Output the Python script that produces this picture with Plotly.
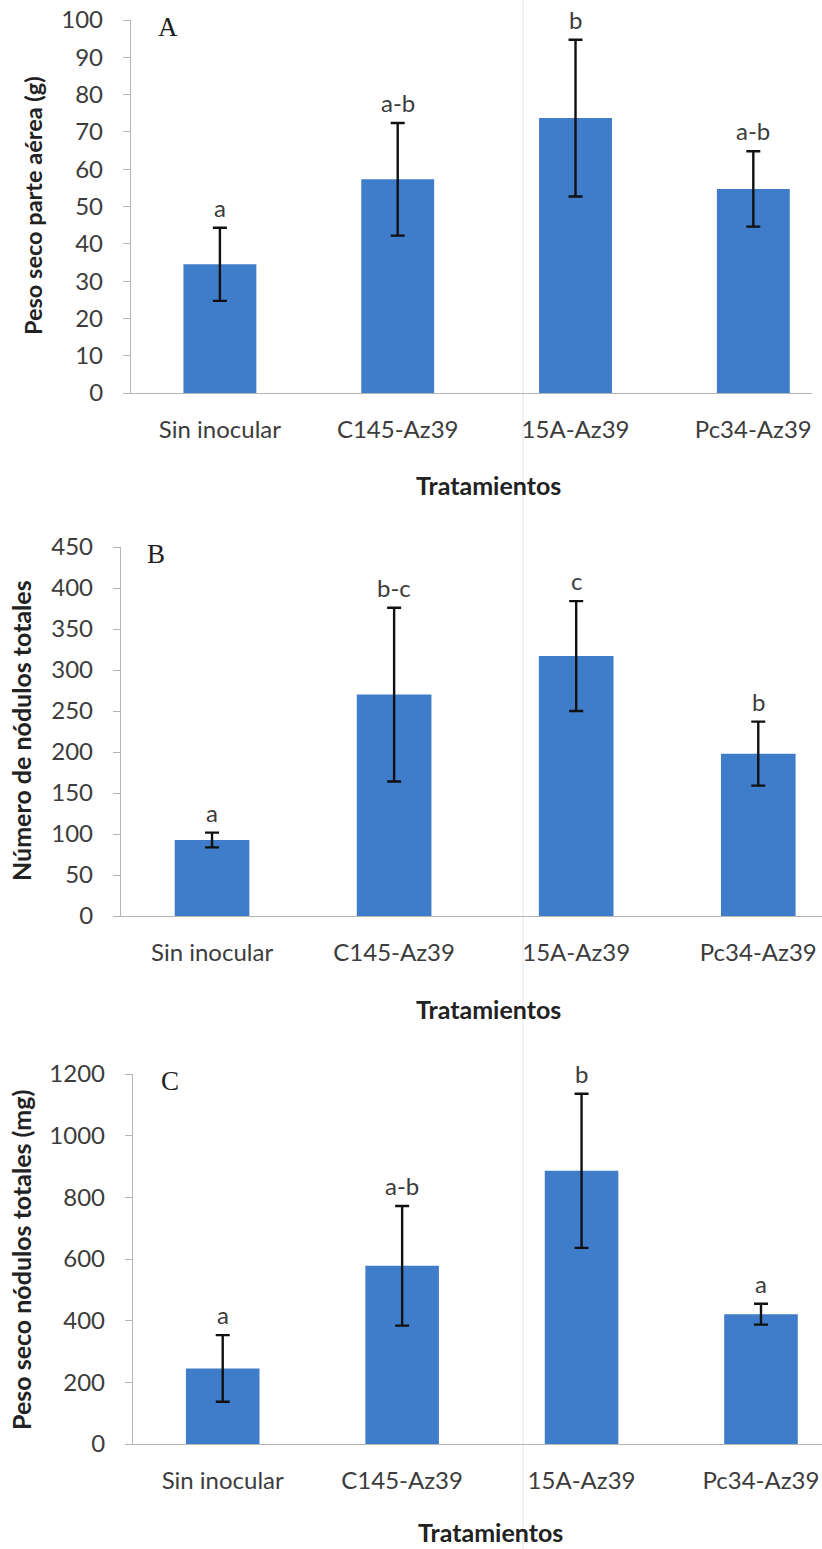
import plotly.graph_objects as go

# Tratamientos y resultados (media ± desvío)
tratamientos = ["Sin inocular", "C145-Az39", "15A-Az39", "Pc34-Az39"]

peso_aereo = [34.5, 57.3, 73.7, 54.7]
err_peso_aereo = [9.8, 15.1, 21.0, 10.1]
letras_aereo = ["a", "a-b", "b", "a-b"]

num_nodulos = [92.7, 270, 317, 198]
err_num_nodulos = [9, 106, 67, 39]
letras_nodulos = ["a", "b-c", "c", "b"]

peso_nodulos = [245, 578, 886, 421]
err_peso_nodulos = [108, 194, 250, 34]
letras_peso_nod = ["a", "a-b", "b", "a"]

W, H = 822, 1549
BAR = "#3f7dca"
TXT = "#3c3c3c"
TIT = "#222222"
FONT = "Lato"


def px(x):
    return x / W


def py(y):
    return 1 - y / H


panels = [
    dict(v=peso_aereo, e=err_peso_aereo, l=letras_aereo, t="Peso seco parte aérea (g)",
         r=[0, 100], d=10, x0=131, x1=812, yt=20, yb=393, letter="A", lxy=(156, 10),
         txy=(33, 206), tsize=23.5, tr=(488, 485), xr=3.33),
    dict(v=num_nodulos, e=err_num_nodulos, l=letras_nodulos, t="Número de nódulos totales",
         r=[0, 450], d=50, x0=121, x1=822, yt=547, yb=916, letter="B", lxy=(145, 537),
         txy=(21, 731), tsize=25, tr=(488, 1009), xr=3.35),
    dict(v=peso_nodulos, e=err_peso_nodulos, l=letras_peso_nod, t="Peso seco nódulos totales (mg)",
         r=[0, 1200], d=200, x0=133, x1=822, yt=1074, yb=1444, letter="C", lxy=(159, 1064),
         txy=(21, 1260), tsize=25, tr=(490, 1532), xr=3.34),
]

fig = go.Figure()
annotations = []

for i, p in enumerate(panels, start=1):
    xa = "x" if i == 1 else f"x{i}"
    ya = "y" if i == 1 else f"y{i}"
    xk = "xaxis" if i == 1 else f"xaxis{i}"
    yk = "yaxis" if i == 1 else f"yaxis{i}"
    fig.add_trace(go.Bar(
        x=list(range(len(tratamientos))), y=p["v"], xaxis=xa, yaxis=ya,
        width=0.41, marker=dict(color=BAR, line=dict(width=0)),
        error_y=dict(type="data", array=p["e"], visible=True, color="#111111",
                     thickness=2.4, width=7),
        showlegend=False,
    ))
    fig.update_layout({
        xk: dict(domain=[px(p["x0"]), px(p["x1"])], anchor=ya, range=[-0.5, p["xr"]],
                 tickmode="array", tickvals=list(range(len(tratamientos))),
                 ticktext=tratamientos, showline=True, linecolor="#b5b5b5", linewidth=1.3,
                 ticks="", showgrid=False, zeroline=False, ticklabelstandoff=15,
                 automargin=False,
                 tickfont=dict(family=FONT, size=24, color=TXT), fixedrange=True),
        yk: dict(domain=[py(p["yb"]), py(p["yt"])], anchor=xa, range=p["r"], dtick=p["d"],
                 showline=True, linecolor="#b5b5b5", linewidth=1.3, ticks="outside",
                 ticklen=7, tickcolor="#b5b5b5", showgrid=False, zeroline=False,
                 ticklabelstandoff=15, automargin=False,
                 tickfont=dict(family=FONT, size=24, color=TXT), fixedrange=True),
    })
    # letras de significancia sobre las barras de error
    for k, (v, e, lt) in enumerate(zip(p["v"], p["e"], p["l"])):
        annotations.append(dict(x=k, y=v + e, xref=xa, yref=ya, text=lt, showarrow=False,
                                yanchor="bottom", yshift=4,
                                font=dict(family=FONT, size=24, color=TXT)))
    # letra del panel
    annotations.append(dict(x=px(p["lxy"][0]), y=py(p["lxy"][1]), xref="paper", yref="paper",
                            text=p["letter"], showarrow=False, xanchor="left", yanchor="top",
                            font=dict(family="Liberation Serif", size=27, color="#1e1e1e")))
    # título del eje y
    annotations.append(dict(x=px(p["txy"][0]), y=py(p["txy"][1]), xref="paper", yref="paper",
                            text=f"<b>{p['t']}</b>", showarrow=False, textangle=-90,
                            xanchor="center", yanchor="middle",
                            font=dict(family=FONT, size=p["tsize"], color=TIT)))
    # título del eje x
    annotations.append(dict(x=px(p["tr"][0]), y=py(p["tr"][1]),
                            xref="paper", yref="paper", text="<b>Tratamientos</b>",
                            showarrow=False, xanchor="center", yanchor="middle",
                            font=dict(family=FONT, size=25, color=TIT)))

fig.update_layout(
    width=W, height=H, margin=dict(l=0, r=0, t=0, b=0, autoexpand=False),
    paper_bgcolor="white", plot_bgcolor="white",
    annotations=annotations,
    shapes=[dict(type="line", xref="paper", yref="paper", x0=px(523), x1=px(523), y0=0, y1=1,
                 line=dict(color="rgba(0,0,0,0.07)", width=1.5), layer="below")],
)

fig.write_html("out.html")
